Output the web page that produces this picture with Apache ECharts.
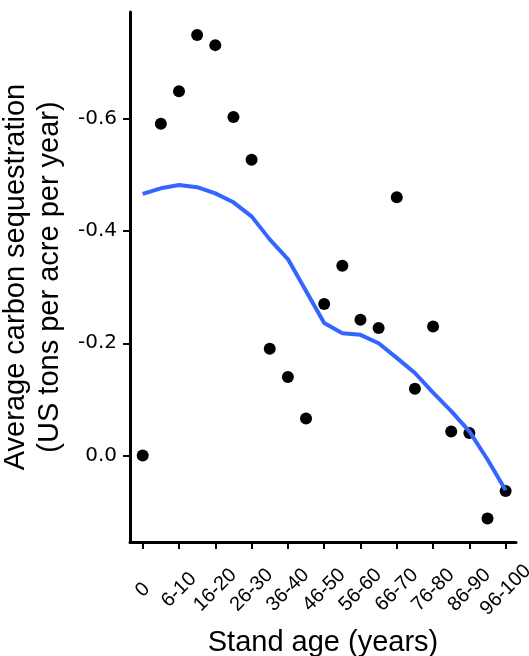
<!DOCTYPE html>
<html>
<head>
<meta charset="utf-8">
<script src="https://cdn.jsdelivr.net/npm/echarts@6/dist/echarts.min.js"></script>
<style>
html,body{margin:0;padding:0;background:#fff;}
#chart{width:529px;height:656px;}
</style>
</head>
<body>
<div id="chart"></div>
<script>
var categories = ['0','1-5','6-10','11-15','16-20','21-25','26-30','31-35','36-40','41-45','46-50',
  '51-55','56-60','61-65','66-70','71-75','76-80','81-85','86-90','91-95','96-100'];
var pointValues = [0.000,-0.591,-0.649,-0.749,-0.731,-0.603,-0.527,-0.190,-0.140,-0.066,-0.270,
  -0.338,-0.242,-0.227,-0.460,-0.119,-0.230,-0.043,-0.040,0.112,0.063];
var smoothValues = [-0.466,-0.476,-0.482,-0.478,-0.467,-0.451,-0.426,-0.385,-0.350,-0.293,-0.236,
  -0.218,-0.215,-0.200,-0.174,-0.147,-0.112,-0.079,-0.043,0.007,0.062];
var xTickLabels = ['0','6-10','16-20','26-30','36-40','46-50','56-60','66-70','76-80','86-90','96-100'];
var yTickValues = [-0.6,-0.4,-0.2,0.0];

var xTickPos = xTickLabels.map(function(l){ return categories.indexOf(l); });
var FONT = '"Liberation Sans", Arial, sans-serif';

var chart = echarts.init(document.getElementById('chart'), null, {renderer:'canvas'});
chart.setOption({
  animation: false,
  backgroundColor: '#fff',
  grid: {left: 130, right: 13, top: 12, bottom: 114, containLabel: false, outerBoundsMode: 'none'},
  xAxis: {
    type: 'value',
    min: -0.7, max: 20.57,
    name: 'Stand age (years)',
    nameLocation: 'middle',
    nameGap: 81,
    nameTextStyle: {fontFamily: FONT, fontSize: 29, color: '#000', lineHeight: 34},
    axisLine: {show: true, onZero: false, lineStyle: {color: '#000', width: 3}},
    axisTick: {show: true, length: 7, lineStyle: {color: '#000', width: 2}, customValues: xTickPos},
    axisLabel: {
      customValues: xTickPos,
      rotate: 45, align: 'center', verticalAlign: 'middle', margin: 48,
      fontFamily: FONT, fontSize: 20, color: '#000',
      formatter: function(v){ return categories[Math.round(v)]; }
    },
    splitLine: {show: false}
  },
  yAxis: {
    type: 'value',
    inverse: true,
    min: -0.790, max: 0.154,
    name: 'Average carbon sequestration\n(US tons per acre per year)',
    nameLocation: 'middle',
    nameGap: 57,
    nameRotate: 90,
    nameTextStyle: {fontFamily: FONT, fontSize: 29, color: '#000', lineHeight: 34},
    axisLine: {show: true, onZero: false, lineStyle: {color: '#000', width: 3}},
    axisTick: {show: true, length: 7, lineStyle: {color: '#000', width: 2}, customValues: yTickValues},
    axisLabel: {
      customValues: yTickValues,
      margin: 13,
      fontFamily: '"DejaVu Sans", sans-serif', fontSize: 20, color: '#000',
      formatter: function(v){ return v.toFixed(1); }
    },
    splitLine: {show: false}
  },
  series: [
    {
      type: 'scatter',
      data: pointValues.map(function(v,i){ return [i, v]; }),
      symbol: 'circle',
      symbolSize: 12,
      itemStyle: {color: '#000', opacity: 1}
    },
    {
      type: 'line',
      data: smoothValues.map(function(v,i){ return [i, v]; }),
      showSymbol: false,
      smooth: false,
      lineStyle: {color: '#3366FF', width: 4},
      itemStyle: {color: '#3366FF'}
    }
  ]
});
</script>
</body>
</html>
